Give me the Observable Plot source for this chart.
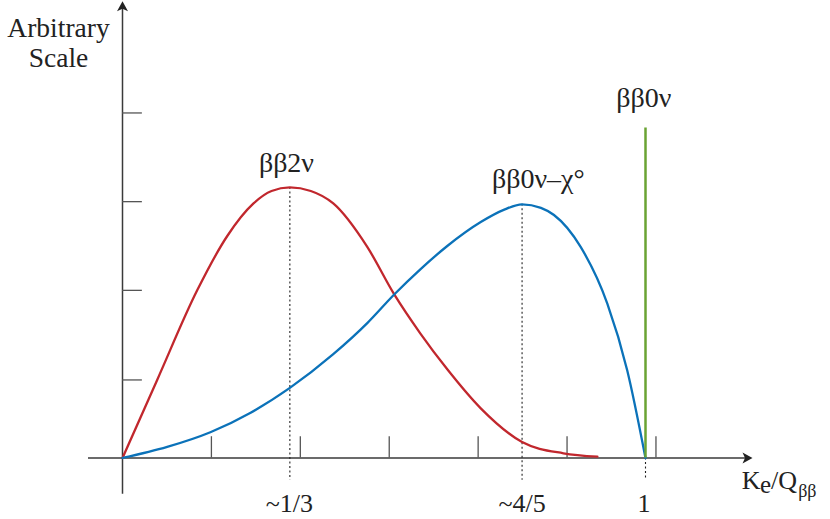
<!DOCTYPE html>
<html>
<head>
<meta charset="utf-8">
<script src="https://cdn.jsdelivr.net/npm/d3@7"></script>
<script src="https://cdn.jsdelivr.net/npm/@observablehq/plot@0.6"></script>
<style>
  html, body { margin: 0; padding: 0; background: #fff; }
  #chart svg { display: block; }
</style>
</head>
<body>
<div id="chart"></div>
<script>
// Energy spectra of the summed electron kinetic energy, Ke/Qββ on x, arbitrary units on y.
const twoNuX = [0, 0.0663, 0.1428, 0.20, 0.2505, 0.285, 0.320, 0.36, 0.403, 0.468, 0.519, 0.570, 0.621, 0.685, 0.764, 0.843, 0.908];
const twoNuY = [0, 0.88, 1.89, 2.50, 2.87, 3.01, 3.05, 3.01, 2.87, 2.38, 1.85, 1.40, 1.00, 0.56, 0.18, 0.053, 0.015];

const majoronX = [0, 0.0855, 0.168, 0.245, 0.320, 0.403, 0.468, 0.519, 0.570, 0.621, 0.685, 0.73, 0.764, 0.80, 0.825, 0.876, 0.927, 0.965, 1.0];
const majoronY = [0, 0.125, 0.29, 0.51, 0.79, 1.17, 1.52, 1.84, 2.13, 2.39, 2.66, 2.80, 2.86, 2.82, 2.74, 2.38, 1.74, 0.99, 0];

// The neutrinoless line sits at the endpoint
const zeroNuX = 1;
const zeroNuTop = 3.72;

// Peak markers and their labels
const peakX = [0.320, 0.764, 1];
const peakY = [3.05, 2.86, 0];
const peakLabels = ["~1/3", "~4/5", "1"];
const peakLabelX = [0.319, 0.764, 0.997];

const xTicks = [0.17, 0.34, 0.51, 0.68, 0.85, 1.02];
const yTicks = [0.88, 1.89, 2.89, 3.89];

const seriesNames = ["ββ2ν", "ββ0ν–χ°", "ββ0ν"];
const seriesLabelX = [0.3135, 0.795, 0.9967];
const seriesLabelY = [3.32, 3.148, 4.056];
const seriesColors = ["#c1272d", "#0b72b9", "#6aa333"];

const serif = "Liberation Serif";
const ink = "#222";
const axisColor = "#3a3a3a";
const tickColor = "#555";

const twoNu = twoNuX.map((x, i) => ({x, y: twoNuY[i]}));
const majoron = majoronX.map((x, i) => ({x, y: majoronY[i]}));
const peaks = peakX.map((x, i) => ({x, y: peakY[i], label: peakLabels[i], lx: peakLabelX[i]}));
const series = seriesNames.map((name, i) => ({name, x: seriesLabelX[i], y: seriesLabelY[i]}));

// Filled arrowheads drawn as custom dot symbols (tip at the anchor point)
const arrowUp = {
  draw(ctx) {
    ctx.moveTo(0, 0);
    ctx.lineTo(5.5, 10);
    ctx.lineTo(0, 7.5);
    ctx.lineTo(-5.5, 10);
    ctx.closePath();
  }
};
const arrowRight = {
  draw(ctx) {
    ctx.moveTo(0, 0);
    ctx.lineTo(-10, 5.5);
    ctx.lineTo(-7.5, 0);
    ctx.lineTo(-10, -5.5);
    ctx.closePath();
  }
};

const xMin = -0.065, xMax = 1.2046;
const yMin = -0.41, yMax = 5.15;

const label = (text, x, y, fontSize, textAnchor = "start") =>
  Plot.text([text], {x, y, text: d => d, fontSize, fontFamily: serif, fill: ink, textAnchor});

const chart = Plot.plot({
  width: 830,
  height: 519,
  marginTop: 0, marginRight: 0, marginBottom: 0, marginLeft: 0,
  x: {domain: [0, 1], range: [122, 645]},
  y: {domain: [0, 1], range: [457.5, 368.8]},
  axis: null,
  style: {fontFamily: serif, background: "#fff"},
  marks: [
    // axes
    Plot.ruleY([0], {x1: xMin, x2: xMax - 0.01, stroke: axisColor, strokeWidth: 1.5}),
    Plot.ruleX([0], {y1: yMin, y2: yMax - 0.08, stroke: axisColor, strokeWidth: 1.5}),
    Plot.dot([{x: xMax, y: 0}], {x: "x", y: "y", symbol: arrowRight, fill: ink, stroke: "none"}),
    Plot.dot([{x: 0, y: yMax}], {x: "x", y: "y", symbol: arrowUp, fill: ink, stroke: "none"}),
    // ticks
    Plot.ruleX(xTicks, {y1: 0, y2: 0.24, stroke: tickColor, strokeWidth: 1.3}),
    Plot.ruleY(yTicks, {x1: 0, x2: 0.038, stroke: tickColor, strokeWidth: 1.3}),
    // dotted drop lines from the peaks
    Plot.ruleX(peaks, {x: "x", y1: "y", y2: -0.25, stroke: ink, strokeWidth: 1.1, strokeDasharray: "2,2.5"}),
    // spectra
    Plot.line(twoNu, {x: "x", y: "y", stroke: seriesColors[0], strokeWidth: 2.3, curve: "monotone-x"}),
    Plot.line(majoron, {x: "x", y: "y", stroke: seriesColors[1], strokeWidth: 2.3, curve: "monotone-x"}),
    Plot.ruleX([zeroNuX], {y1: 0, y2: zeroNuTop, stroke: seriesColors[2], strokeWidth: 2.5}),
    // labels
    Plot.text(series, {x: "x", y: "y", text: "name", fontSize: 28, fontFamily: serif, fill: ink, textAnchor: "middle"}),
    Plot.text(peaks, {x: "lx", y: -0.512, text: "label", fontSize: 26, fontFamily: serif, fill: ink, textAnchor: "middle"}),
    label("Arbitrary", -0.1224, 4.851, 27.5, "middle"),
    label("Scale", -0.1224, 4.502, 27.5, "middle"),
    // axis title Ke/Qββ built from pieces for the subscripts
    label("K", 1.1840, -0.254, 26),
    label("e", 1.2190, -0.30, 25),
    label("/Q", 1.2400, -0.254, 26),
    label("ββ", 1.2920, -0.37, 18)
  ]
});

document.getElementById("chart").appendChild(chart);
</script>
</body>
</html>
